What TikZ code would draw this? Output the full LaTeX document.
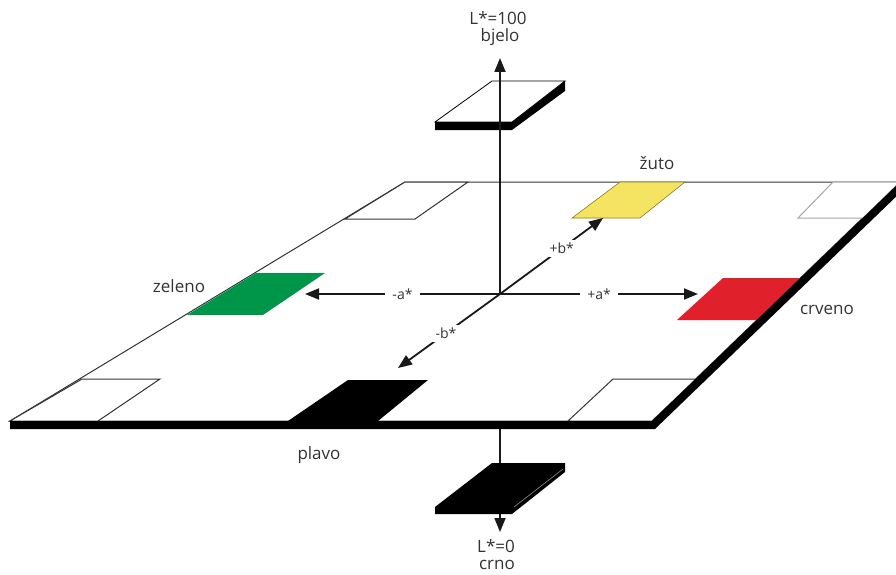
\documentclass[tikz,border=0pt]{standalone}
\usepackage{fontspec}
\setmainfont{Open Sans}
\usetikzlibrary{arrows.meta}
\definecolor{txt}{HTML}{333333}
\definecolor{yel}{HTML}{F4E461}
\definecolor{yelline}{HTML}{8A7E2A}
\definecolor{grn}{HTML}{00964A}
\definecolor{rd}{HTML}{E0202A}
\begin{document}
\begin{tikzpicture}[x=1pt,y=-1pt,
  edge/.style={draw=black!80,line width=1pt,line join=miter},
  lightedge/.style={draw=black!35,line width=1pt},
  axis/.style={draw=black!90,line width=1.8pt},
  tipd/.style={-{Triangle[length=14pt,width=11pt]}},
  lab/.style={text=txt,font=\fontsize{17}{20}\selectfont,inner sep=0pt},
  axlab/.style={text=txt,font=\fontsize{14}{16}\selectfont,fill=white,inner xsep=7pt,inner ysep=3pt}]
\useasboundingbox (0,0) rectangle (896,575);
\fill[white] (0,0) rectangle (896,575);

% plane top face
\path[fill=white,edge] (10,421) -- (405,182) -- (900,182) -- (652,421) -- cycle;

% white corner squares
\path[fill=white,edge] (345,219) -- (415,219) -- (468,182) -- (405,182) -- cycle;
\path[fill=white,lightedge] (798,218) -- (863,218) -- (900,182) -- (833,182) -- cycle;
\path[fill=white,edge] (10,421) -- (98,421) -- (160,379) -- (82,379) -- cycle;
\path[fill=white,edge] (568,421) -- (652,421) -- (696,379) -- (613,379) -- cycle;

% colour patches
\path[fill=yel,draw=yelline,line width=0.6pt] (572,218) -- (640,218) -- (685,182) -- (620,182) -- cycle;
\path[fill=grn] (187,315) -- (263,315) -- (325,273) -- (256,273) -- cycle;
\path[fill=rd] (677,320) -- (757,320) -- (800,278) -- (723,278) -- cycle;
\path[fill=black] (288,421) -- (378,421) -- (428,380) -- (348,380) -- cycle;

% plane thickness
\fill[black] (10,421) -- (652,421) -- (900,182) -- (903,190) -- (655,429) -- (10,429) -- cycle;

% top box
\fill[black] (435,122) -- (512,122) -- (565,81) -- (565,91) -- (512,130) -- (435,130) -- cycle;
\filldraw[fill=white,draw=black,line width=0.8pt] (435,122) -- (512,122) -- (565,81) -- (492,81) -- cycle;

% axes
\coordinate (O) at (500,294);
\coordinate (Ltop) at (500,58);
\coordinate (Lbase) at (500,429);
\coordinate (Lbot) at (500,532);
\coordinate (aplus) at (698,294);
\coordinate (aminus) at (305,294);
\coordinate (bplus) at (603,218);
\coordinate (bminus) at (398,368);

\draw[axis,tipd] (O) -- (Ltop);
\draw[axis,tipd] (Lbase) -- (Lbot);
\draw[axis,tipd] (O) -- node[axlab,pos=0.50] (la) {+a*} (aplus);
\draw[axis,tipd] (O) -- node[axlab,pos=0.50] (lma) {-a*} (aminus);
\draw[axis,tipd] (O) -- node[axlab,pos=0.60] (lb) {+b*} (bplus);
\draw[axis,tipd] (O) -- node[axlab,pos=0.53] (lmb) {-b*} (bminus);

% bottom box
\fill[black] (435,507) -- (492,463) -- (565,463) -- (565,472) -- (512,514) -- (435,514) -- cycle;
\draw[black!45,line width=0.6pt] (514,507) -- (563,469);

% labels
\node[lab] (l100) at (498,18) {L*=100};
\node[lab] (bjelo) at (500,37) {bjelo};
\node[lab] (l0) at (496,546) {L*=0};
\node[lab] (crno) at (497,565) {crno};
\node[lab] (zuto) at (657,163) {žuto};
\node[lab] (zeleno) at (179,286) {zeleno};
\node[lab] (crveno) at (827,310) {crveno};
\node[lab] (plavo) at (319,455) {plavo};
\end{tikzpicture}
\end{document}
